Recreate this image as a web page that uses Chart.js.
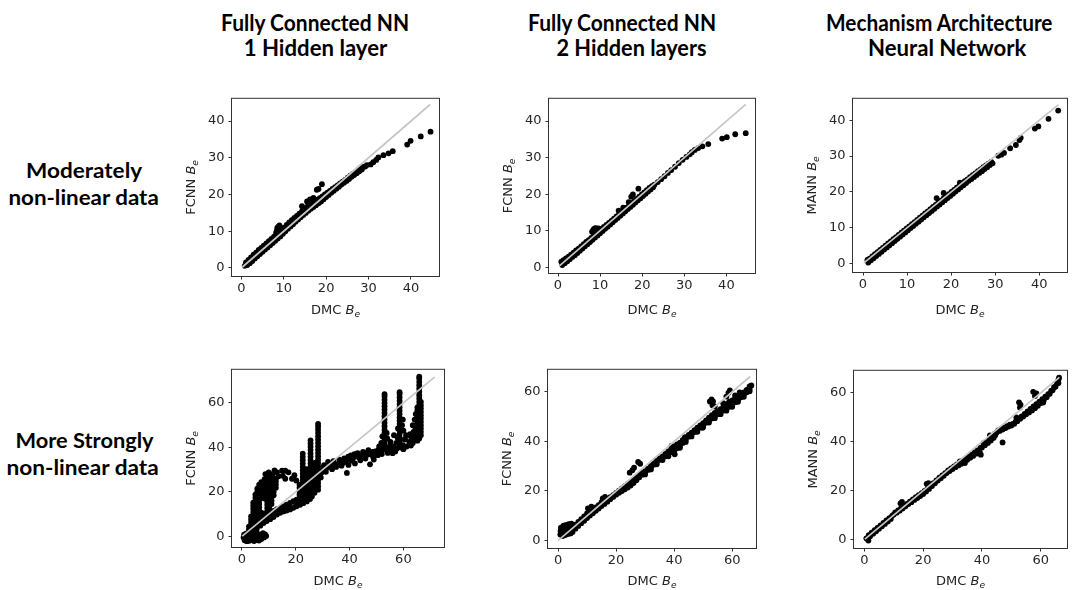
<!DOCTYPE html>
<html>
<head>
<meta charset="utf-8">
<script src="https://cdn.jsdelivr.net/npm/chart.js@4.4.1/dist/chart.umd.min.js"></script>
<style>
  html, body { margin: 0; padding: 0; background: #fff; }
  #page { position: relative; width: 1076px; height: 590px; overflow: hidden; background: #fff; }
  #page canvas { position: absolute; }
  .lbl { position: absolute; white-space: nowrap; color: #000; transform-origin: 50% 50%; }
</style>
</head>
<body>
<div id="page"></div>
<script>
// ---------------------------------------------------------------
// Data: predicted Be (network) against DMC Be, one array per panel
// ---------------------------------------------------------------
const colTitles = [
  ["Fully Connected NN", "1 Hidden layer"],
  ["Fully Connected NN", "2 Hidden layers"],
  ["Mechanism Architecture", "Neural Network"]
];
const rowTitles = [
  ["Moderately", "non-linear data"],
  ["More Strongly", "non-linear data"]
];
const xTitle = "DMC";
const yTitles = ["FCNN", "FCNN", "MANN", "FCNN", "FCNN", "MANN"];
const ticksModerate = [0, 10, 20, 30, 40];
const ticksStrong = [0, 20, 40, 60];

// axis limits [xmin, xmax, ymin, ymax]
const axisLimits = [
  [-2.19, 46.6, -2.18, 46.05],
  [-2.14, 46.8, -1.59, 46.1],
  [-2.27, 46.3, -2.35, 46.0],
  [-3.7, 75.1, -4.8, 74.9],
  [-3.45, 68.2, -3.0, 68.9],
  [-3.5, 68.9, -3.45, 69.0]
];

// y = x reference line, from / to
const parityRange = [
  [0.2, 44.5], [0.2, 44.6], [0.2, 44.3],
  [0.1, 71.6], [0.1, 66.2], [0.2, 66.3]
];

const fcnn1ModPts = [
  [0.8,0.6],[1.4,0.8],[2.0,1.3],[2.6,1.9],[3.2,2.6],[3.8,3.2],[4.4,3.8],[5.0,4.4],[5.6,5.0],[6.2,5.6],[6.8,6.2],[7.4,6.8],[8.0,7.4],[8.6,8.0],[9.2,8.6],[9.8,9.3],[10.4,10.0],[11.0,10.7],[11.6,11.3],[12.2,11.9],[12.8,12.6],[13.4,13.2],[14.0,13.8],[14.6,14.4],[15.2,15.0],[15.8,15.6],[16.4,16.1],[17.0,16.6],[17.6,17.1],[18.2,17.6],[18.8,18.1],[19.4,18.7],[20.0,19.3],[20.6,19.9],[21.2,20.5],[21.8,21.0],[22.4,21.6],[23.0,22.1],[23.6,22.7],[24.2,23.2],[24.8,23.7],[25.4,24.2],[26.0,24.8],[26.6,25.3],[27.2,25.8],[27.8,26.3],[28.4,26.8],
  [1.1,1.5],[1.7,2.2],[2.3,2.9],[2.9,3.6],[3.5,4.2],[4.1,4.9],[4.7,5.5],[5.3,6.1],[5.9,6.7],[6.5,7.3],[7.1,7.9],[7.7,8.5],[8.3,9.1],[8.9,9.7],[9.5,10.4],[10.1,11.0],[10.7,11.7],[11.3,12.4],[11.9,13.0],[12.5,13.6],[13.1,14.2],[13.7,14.8],[14.3,15.4],[14.9,16.0],[15.5,16.6],[16.1,17.1],[16.7,17.6],[17.3,18.1],[17.9,18.6],[18.5,19.0],[19.1,19.5],[19.7,20.0],[20.3,20.5],[20.9,21.0],[21.5,21.5],[22.1,22.0],[22.7,22.5],[23.3,23.0],[23.9,23.5],[24.5,24.0],[25.1,24.6],[25.7,25.1],[26.3,25.6],[26.9,26.1],[27.5,26.6],[28.1,27.1],[28.7,27.5],
  [8.2,9.6],[8.4,10.2],[8.6,10.8],[8.8,11.3],[9.0,11.6],[8.5,11.0],[8.7,9.9],
  [14.3,16.8],[15.5,18.1],[16.2,18.7],[17.0,19.1],[17.8,21.3],[18.2,21.5],[19.0,22.8],
  [29.2,27.6],[29.6,28.0],[30.5,28.2],[31.1,28.8],[31.8,29.4],[32.3,30.1],[33.5,30.7],[34.7,31.2],[35.7,31.8],[39.1,33.6],[39.9,34.6],[42.3,35.8],[44.6,37.1]
];

const fcnn2ModPts = [
  [1.0,0.6],[1.6,1.1],[2.2,1.6],[2.8,2.2],[3.4,2.8],[4.0,3.3],[4.6,3.9],[5.2,4.5],[5.8,5.1],[6.4,5.7],[7.0,6.3],[7.6,6.9],[8.2,7.5],[8.8,8.1],[9.4,8.7],[10.0,9.3],[10.6,9.9],[11.2,10.5],[11.8,11.1],[12.4,11.7],[13.0,12.3],[13.6,12.9],[14.2,13.5],[14.8,14.1],[15.4,14.7],[16.0,15.3],[16.6,15.9],[17.2,16.5],[17.8,17.1],[18.4,17.7],[19.0,18.3],[19.6,18.9],[20.2,19.5],[20.8,20.1],[21.4,20.7],[22.0,21.3],[22.6,21.9],
  [0.8,1.5],[1.3,1.9],[1.9,2.4],[2.5,2.9],[3.1,3.4],[3.7,4.0],[4.3,4.6],[4.9,5.1],[5.5,5.7],[6.1,6.3],[6.7,6.9],[7.3,7.4],[7.9,8.0],[8.5,8.6],[9.1,9.2],[9.7,9.8],[10.3,10.4],[10.9,11.0],[11.5,11.6],[12.1,12.1],[12.7,12.7],[13.3,13.3],[13.9,13.9],[14.5,14.5],[15.1,15.1],[15.7,15.7],[16.3,16.3],[16.9,16.9],[17.5,17.5],[18.1,18.1],[18.7,18.7],[19.3,19.3],[19.9,19.9],[20.5,20.5],[21.1,21.1],[21.7,21.7],[22.3,22.2],
  [8.1,9.7],[8.4,10.3],[8.7,10.6],[9.0,10.7],[9.3,10.4],[9.6,10.6],
  [14.4,15.5],[15.5,16.3],[16.8,17.8],[17.4,19.3],[17.8,19.9],[19.1,21.5],
  [22.9,22.6],[23.7,23.3],[24.5,24.1],[25.3,24.9],[26.1,25.8],[26.9,26.6],[27.8,27.5],[28.7,28.5],[29.6,29.4],[30.5,30.2],[31.3,30.9],[31.8,31.5],
  [32.5,32.1],[33.3,32.6],[34.3,33.1],[35.7,33.7],[39.0,35.2],[40.1,35.6],[42.1,36.4],[44.6,36.7]
];

const mannModPts = [
  [1.2,0.3],[1.8,0.9],[2.4,1.5],[3.0,2.1],[3.6,2.7],[4.2,3.3],[4.8,3.9],[5.4,4.5],[6.0,5.1],[6.6,5.7],[7.2,6.3],[7.8,6.9],[8.4,7.5],[9.0,8.1],[9.6,8.7],[10.2,9.3],[10.8,9.9],[11.4,10.5],[12.0,11.1],[12.6,11.7],[13.2,12.3],[13.8,12.9],[14.4,13.5],[15.0,14.1],[15.6,14.7],[16.2,15.3],[16.8,15.9],[17.4,16.5],[18.0,17.1],[18.6,17.7],[19.2,18.3],[19.8,18.9],[20.4,19.5],[21.0,20.1],[21.6,20.7],[22.2,21.3],[22.8,21.9],[23.4,22.5],[24.0,23.1],[24.6,23.6],[25.2,24.2],[25.8,24.7],[26.4,25.3],[27.0,25.8],[27.6,26.4],[28.2,26.9],[28.8,27.5],[29.4,28.0],
  [1.0,1.0],[1.5,1.4],[2.1,2.0],[2.7,2.6],[3.3,3.2],[3.9,3.8],[4.5,4.4],[5.1,5.0],[5.7,5.6],[6.3,6.2],[6.9,6.8],[7.5,7.4],[8.1,8.0],[8.7,8.6],[9.3,9.2],[9.9,9.8],[10.5,10.4],[11.1,11.0],[11.7,11.6],[12.3,12.2],[12.9,12.8],[13.5,13.4],[14.1,14.0],[14.7,14.6],[15.3,15.2],[15.9,15.8],[16.5,16.4],[17.1,17.0],[17.7,17.6],[18.3,18.2],[18.9,18.8],[19.5,19.4],[20.1,20.0],[20.7,20.6],[21.3,21.2],[21.9,21.8],[22.5,22.4],[23.1,23.0],[23.7,23.5],[24.3,24.1],[24.9,24.7],[25.5,25.2],[26.1,25.8],[26.7,26.3],[27.3,26.9],[27.9,27.4],[28.5,27.9],[29.1,28.4],
  [16.7,18.3],[18.3,19.7],[22.0,22.6],
  [30.7,30.1],[31.4,30.4],[32.0,30.9],[33.4,32.2],[34.7,33.1],[35.5,34.5],[35.8,35.1],[39.0,37.7],[39.8,38.3],[42.1,40.4],[44.3,42.7]
];

const fcnn1StrongPts = [
  [0.6,-0.5],[0.8,0.8],[1.0,-1.8],[1.3,-0.6],[1.5,1.2],[1.8,-2.2],[2.0,-0.9],[2.2,0.4],[2.5,1.8],[2.7,-2.0],[3.0,-0.8],[3.2,0.6],[3.5,2.0],[3.7,-1.6],[4.0,-0.4],[4.2,1.0],[4.5,-2.1],[4.8,-0.9],[5.0,0.5],[5.3,1.8],[5.5,-1.6],[5.8,-0.3],[6.0,1.0],[6.3,-1.9],[6.6,-0.6],[6.8,0.8],[7.2,-1.2],[7.5,0.2],[7.8,1.4],[8.2,-0.5],[8.6,0.9],[9.0,0.2],
  [2.6,3.0],[2.6,4.4],[3.4,3.2],[3.4,4.7],[3.4,6.2],[3.4,7.6],[3.4,9.0],
  [4.2,3.4],[4.2,4.9],[4.2,6.4],[4.2,7.9],[4.2,9.4],[4.2,10.9],[4.2,12.4],[4.2,13.8],[4.2,15.1],
  [5.0,4.0],[5.0,5.5],[5.0,7.0],[5.0,8.5],[5.0,10.0],[5.0,11.5],[5.0,13.0],[5.0,14.5],[5.0,16.0],[5.0,17.4],[5.0,18.8],
  [5.7,5.0],[5.7,6.5],[5.7,8.0],[5.7,9.5],[5.7,11.0],[5.7,12.5],[5.7,14.0],[5.7,15.5],[5.7,17.0],[5.7,18.5],[5.7,20.0],[5.7,21.4],
  [6.4,5.5],[6.4,7.0],[6.4,8.5],[6.4,10.0],[6.4,11.5],[6.4,13.0],[6.4,14.5],[6.4,16.0],[6.4,17.5],[6.4,19.0],[6.4,20.5],[6.4,22.0],[6.4,23.2],
  [7.2,6.2],[7.2,7.7],[7.2,9.2],[7.2,10.6],[7.2,17.2],[7.2,18.7],[7.2,20.2],[7.2,21.7],[7.2,23.1],[7.2,24.4],
  [8.4,7.2],[8.4,8.7],[8.4,10.2],[8.4,17.0],[8.4,18.5],[8.4,20.0],[8.4,21.5],[8.4,23.0],[8.4,24.5],[8.4,25.7],
  [9.4,8.2],[9.4,9.7],[9.4,11.2],[9.4,12.7],[9.4,14.2],[9.4,15.7],[9.4,17.2],[9.4,18.7],[9.4,20.2],[9.4,21.7],[9.4,23.2],[9.4,24.7],[9.4,26.1],
  [10.2,9.2],[10.2,10.7],[10.2,12.2],[10.2,13.7],[10.2,15.2],[10.2,16.7],[10.2,18.2],[10.2,19.7],[10.2,21.2],[10.2,22.7],[10.2,24.2],[10.2,25.7],[10.2,26.8],
  [11.0,14.5],[11.0,16.0],[11.0,17.5],[11.0,19.0],[11.0,20.5],[11.0,22.0],[11.0,23.5],[11.0,25.0],[11.0,26.4],
  [11.8,18.5],[11.8,20.0],[11.8,21.5],[11.8,23.0],[11.8,24.5],[11.8,25.9],
  [12.6,21.8],[12.6,23.3],[12.6,24.8],[12.6,26.0],
  [8.7,28.0],[9.9,28.8],[11.3,28.0],[12.1,29.6],[13.0,28.8],[13.6,27.0],[14.9,29.5],[15.2,27.2],[16.1,29.5],[17.3,28.8],[16.1,25.9],[18.6,25.9],[19.5,27.5],[20.2,25.1],
  [4.3,1.9],[5.5,3.3],[6.8,4.8],[8.0,6.0],[9.2,6.9],[10.5,7.7],[11.7,8.7],[13.0,9.8],[14.2,10.6],[15.4,11.2],[16.6,11.6],[17.9,12.1],[19.1,12.8],[20.3,13.5],[21.6,14.2],[22.8,14.9],[24.1,15.7],[25.3,16.8],[26.0,17.9],
  [6.0,6.5],[7.2,7.6],[8.5,8.8],[9.5,9.8],[10.5,10.6],[11.8,11.4],[13.0,12.2],[14.2,12.8],[15.4,13.5],[16.6,14.2],[17.9,15.0],[19.1,15.8],[20.3,16.5],
  [11.0,9.9],[12.4,10.8],[15.0,12.3],[17.5,13.6],[20.0,15.0],[22.4,16.6],
  [21.4,15.8],[21.4,17.3],[21.4,18.8],[21.4,20.3],[21.4,21.8],[21.4,23.2],
  [22.6,16.2],[22.6,17.7],[22.6,19.2],[22.6,20.7],[22.6,22.2],[22.6,23.7],[22.6,25.2],[22.6,26.7],[22.6,28.2],[22.6,29.7],[22.6,31.2],[22.6,32.7],[22.6,34.2],[22.6,35.7],[22.6,37.2],
  [24.0,16.8],[24.0,18.3],[24.0,19.8],[24.0,21.3],[24.0,22.8],[24.0,24.3],[24.0,25.8],[24.0,27.3],[24.0,28.8],[24.0,30.2],
  [25.5,17.8],[25.5,19.3],[25.5,20.8],[25.5,22.3],[25.5,23.8],[25.5,25.3],[25.5,26.8],[25.5,28.3],[25.5,29.8],[25.5,31.3],[25.5,32.8],[25.5,34.3],[25.5,35.8],[25.5,37.3],[25.5,38.8],[25.5,40.3],[25.5,41.8],[25.5,43.2],
  [27.0,19.6],[27.0,21.1],[27.0,22.6],[27.0,24.1],[27.0,25.6],[27.0,27.1],[27.0,28.6],[27.0,30.1],[27.0,31.6],[27.0,33.0],
  [28.3,21.0],[28.3,22.5],[28.3,24.0],[28.3,25.5],[28.3,27.0],[28.3,28.5],[28.3,30.0],[28.3,31.5],[28.3,33.0],[28.3,34.5],[28.3,36.0],[28.3,37.5],[28.3,39.0],[28.3,40.5],[28.3,42.0],[28.3,43.5],[28.3,45.0],[28.3,46.5],[28.3,48.0],[28.3,49.4],[28.3,50.6],
  [29.7,28.8],[29.3,26.5],[30.2,30.4],[31.5,30.9],[31.2,29.0],[32.8,32.1],[33.5,30.2],[34.6,32.4],[35.9,32.7],[36.8,33.4],[37.7,33.1],[38.6,33.9],[39.0,28.5],[39.6,32.1],[40.2,34.6],[41.0,34.0],[41.4,35.3],[42.0,32.8],[42.7,36.5],[43.4,35.6],[43.9,35.3],[44.6,36.2],[45.1,36.7],[45.9,35.0],[46.4,37.5],[47.2,37.0],[47.6,32.4],[48.2,36.7],[48.8,35.7],[49.5,38.2],[50.1,37.9],[50.7,38.9],[51.9,39.7],
  [30.5,32.0],[32.0,33.5],[33.0,31.5],[34.0,33.8],[35.0,31.2],[36.2,34.5],[37.0,31.8],[38.0,35.0],[39.5,35.8],[40.5,36.4],[41.8,37.0],[43.0,37.4],[44.0,34.2],[45.0,38.0],[46.0,36.0],[47.0,38.8],[48.5,38.0],[49.0,34.5],[51.0,40.5],[52.0,37.0],[55.0,40.8],[56.0,37.4],[57.5,39.5],[60.0,39.2],[62.8,40.8],[63.5,42.0],[64.8,43.5],
  [50.5,36.5],[51.5,38.5],[52.0,40.5],[51.8,42.0],[52.2,45.0],[54.2,37.5],[54.5,39.5],[55.5,38.5],[56.2,40.5],[57.0,38.2],[57.4,42.0],[57.8,44.5],[58.0,48.5],[59.8,41.0],[60.5,43.5],[61.2,40.4],[61.0,45.5],[62.2,42.5],[62.5,46.0],[63.2,44.0],[63.8,47.0],[64.3,45.0],[64.5,48.5],[60.0,47.5],[59.5,50.0],[59.8,52.5],[54.0,44.0],[53.8,46.5],[55.2,42.5],[56.5,45.5],[60.6,43.7],[62.4,45.2],[63.5,50.0],[64.2,52.5],[64.6,55.0],
  [53.0,39.0],[53.0,40.5],[53.0,42.0],[53.0,43.5],[53.0,45.0],[53.0,46.5],[53.0,48.0],[53.0,49.5],[53.0,51.0],[53.0,52.5],[53.0,54.0],[53.0,55.5],[53.0,57.0],[53.0,58.5],[53.0,60.0],[53.0,61.5],[53.0,63.0],[53.0,64.0],
  [58.6,40.0],[58.6,41.5],[58.6,43.0],[58.6,44.5],[58.6,46.0],[58.6,47.5],[58.6,49.0],[58.6,50.5],[58.6,52.0],[58.6,53.5],[58.6,55.0],[58.6,56.5],[58.6,58.0],[58.6,59.5],[58.6,61.0],[58.6,62.5],[58.6,64.0],[58.6,64.8],
  [65.2,43.0],[65.2,44.5],[65.2,46.0],[65.2,47.5],[65.2,49.0],[65.2,50.5],[65.2,52.0],[65.2,53.5],[65.2,55.0],[65.2,56.5],[65.2,58.0],
  [65.9,44.0],[65.9,45.5],[65.9,47.0],[65.9,48.5],[65.9,50.0],[65.9,51.5],[65.9,53.0],[65.9,54.5],[65.9,56.0],[65.9,57.5],[65.9,59.0],[65.9,60.5],[65.9,62.0],[65.9,63.5],[65.9,65.0],[65.9,66.5],[65.9,68.0],[65.9,69.5],[65.9,71.0],[65.9,71.8],
  [66.5,45.5],[66.5,47.0],[66.5,48.5],[66.5,50.0],[66.5,51.5],[66.5,53.0],[66.5,54.5],[66.5,56.0],[66.5,57.5],[66.5,59.0],[66.5,60.5]
];

const fcnn2StrongPts = [
  [0.8,2.4],[0.9,3.8],[1.0,5.2],[1.3,2.6],[1.6,1.8],[1.7,3.2],[1.8,4.6],[1.9,6.0],[2.2,4.2],[2.5,2.2],[2.6,3.6],[2.7,5.0],[2.8,6.3],[3.4,2.6],[3.5,4.0],[3.6,5.4],[3.7,6.6],[4.3,2.9],[4.4,4.3],[4.5,5.7],[4.6,6.8],[5.0,3.5],[5.0,6.2],
  [6,4.8],[7,5.9],[8,7.0],[9,8.0],[10,9.1],[11,10.1],[12,11.0],[13,12.0],[14,12.9],[15,13.9],[16,14.8],[17,15.7],[18,16.7],[19,17.6],[20,18.5],[21,19.3],[22,20.0],[23,20.7],[24,21.4],[25,22.2],[26,23.2],[27,24.3],[28,25.5],[29,26.6],[30,27.5],[31,28.5],[32,29.5],[33,30.6],[34,31.6],[35,32.6],[36,33.3],[37,34.0],[38,34.8],[39,35.6],[40,36.3],[41,37.2],[42,38.2],[43,39.4],[44,40.6],[45,41.9],[46,42.8],[47,43.8],[48,44.7],[49,45.6],[50,46.6],[51,47.5],[52,48.4],[53,49.3],[54,50.2],[55,51.0],[56,51.8],[57,52.5],[58,53.2],[59,54.0],[60,54.8],[61,55.8],[62,56.8],[63,57.8],[64,58.8],[65,59.8],[66,61.0],
  [6,6.4],[7,7.5],[8,8.6],[9,9.8],[10,11.0],[11,11.9],[12,12.6],[13,13.4],[14,14.3],[15,15.5],[16,16.0],[17,16.7],[18,17.5],[19,18.3],[20,19.2],[21,20.1],[22,21.0],[23,22.0],[24,22.9],[25,23.6],[26,24.6],[27,25.6],[28,26.5],[29,27.4],[30,28.0],[31,29.0],[32,30.1],[33,31.2],[34,32.2],[35,33.2],[36,34.0],[37,35.0],[38,36.0],[39,37.0],[40,38.0],[41,38.8],[42,39.5],[43,40.6],[44,41.5],[45,42.6],[46,43.5],[47,44.6],[48,45.6],[49,46.5],[50,47.4],[51,48.5],[52,49.6],[53,50.6],[54,51.5],[55,52.2],[56,53.0],[57,54.0],[58,55.0],[59,56.0],[60,56.6],[61,57.4],[62,58.2],[63,59.0],[64,59.8],[65,60.8],[66,62.2],[66.6,62.6],
  [30,26.7],[32,28.7],[34,30.8],[36,32.5],[38,34.0],[40,35.5],[42,37.4],[44,39.8],[46,42.0],[48,43.9],[50,45.8],[52,47.6],[54,49.4],[56,51.0],[58,52.4],[60,54.0],[62,56.0],[64,58.0],[66,60.2],
  [10.3,13.0],[11.5,13.7],[15.4,17.0],[16.2,17.6],[24.7,27.4],[25.6,28.4],[26.2,29.4],[27.6,31.7],[28.3,31.0],[40.2,34.8],[39.1,38.2],[42.0,39.1],[43.1,40.4],[43.7,41.7],[49.8,45.5],
  [52.3,56.1],[52.9,57.0],[53.4,56.1],[54.0,54.1],[53.2,54.6],[56.9,55.4],[58.0,58.1],[58.7,59.6],[59.2,60.6],[61.0,58.6],[62.6,59.8]
];

const mannStrongPts = [
  [0.7,0.5],[1.4,-0.4],
  [1,0.3],[2,1.4],[3,2.4],[4,3.4],[5,4.4],[6,5.4],[7,6.4],[8,7.4],[9,8.4],[10,10.2],[11,11.0],[12,11.8],[13,12.7],[14,13.6],[15,14.5],[16,15.3],[17,16.2],[18,17.0],[19,17.8],[20,18.6],[21,19.6],[22,20.7],[23,21.9],[24,23.0],[25,24.1],[26,25.1],[27,26.1],[28,27.2],[29,28.0],[30,28.8],[31,29.6],[32,30.3],[33,31.0],[34,31.8],[35,32.6],[36,33.4],[37,34.2],[38,35.1],[39,36.0],[40,37.6],[41,38.6],[42,39.5],[43,40.5],[44,41.6],[45,43.8],[46,44.4],[47,45.0],[48,45.6],[49,46.2],[50,46.6],[51,47.4],[52,48.4],[53,49.4],[54,50.3],[55,51.2],[56,52.0],[57,52.8],[58,53.7],[59,54.7],[60,55.8],[61,57.0],[62,58.2],[63,59.6],[64,61.0],[65,62.5],[66,64.0],
  [1.5,1.8],[2.5,2.8],[3.5,3.8],[4.5,4.8],[5.5,5.8],[6.5,6.8],[7.5,7.8],[8.5,8.8],[9.5,9.8],[10.5,11.1],[11.5,11.9],[12.5,12.8],[13.5,13.7],[14.5,14.6],[15.5,15.5],[16.5,16.4],[17.5,17.3],[18.5,18.2],[19.5,19.0],[20.5,19.9],[21.5,20.9],[22.5,22.0],[23.5,23.1],[24.5,24.2],[25.5,25.3],[26.5,26.2],[27.5,27.2],[28.5,28.3],[29.5,29.1],[30.5,29.9],[31.5,30.7],[32.5,31.5],[33.5,32.3],[34.5,33.1],[35.5,33.9],[36.5,34.7],[37.5,35.6],[38.5,36.5],[39.5,37.5],[40.5,39.4],[41.5,39.8],[42.5,40.6],[43.5,41.5],[44.5,42.6],[45.5,44.6],[46.5,45.2],[47.5,45.8],[48.5,46.4],[49.5,47.0],[50.5,47.3],[51.5,48.3],[52.5,49.4],[53.5,50.4],[54.5,51.4],[55.5,52.4],[56.5,53.4],[57.5,54.4],[58.5,55.4],[59.5,56.4],[60.5,57.4],[61.5,58.4],[62.5,59.5],[63.5,60.8],[64.5,62.3],[65.5,63.8],[66.0,65.4],[66.2,66.2],
  [12.3,14.8],[12.8,15.4],[21.2,22.8],[21.8,23.1],[32.5,32.0],[34.2,31.3],[39.3,35.5],[39.6,34.7],[42.7,42.6],[44.4,43.3],[47.0,39.7],[51.7,49.9],[52.6,56.1],[53.1,55.2],[52.9,54.0],[57.4,60.4],[58.5,59.8],[58.0,58.7],[60.8,56.0]
];

const panelPoints = [fcnn1ModPts, fcnn2ModPts, mannModPts, fcnn1StrongPts, fcnn2StrongPts, mannStrongPts];

// ---------------------------------------------------------------
// Layout: plot frames in page pixels [left, top, right, bottom]
// ---------------------------------------------------------------
const frames = [
  [232, 93, 439, 276],
  [549, 93, 755, 273],
  [853, 93, 1067, 272],
  [232, 364, 444, 547],
  [548, 364, 756, 548],
  [854, 365, 1067, 548]
];
const xTitleBaseline = [314, 585];
const PAD_L = 62, PAD_T = 6, PAD_R = 6, PAD_B = 48;
const POINT_R = 2.9;

const page = document.getElementById('page');
const mctx = document.createElement('canvas').getContext('2d');

// bold label centred on cx, sitting on the given baseline, squeezed to an ink width
function placeText(text, cx, baseline, size, inkW) {
  const font = `700 ${size}px Lato`;
  mctx.font = font;
  const m = mctx.measureText(text);
  const adv = m.width;
  const inkL = m.actualBoundingBoxLeft, inkR = m.actualBoundingBoxRight;
  const s = inkW / (inkL + inkR);
  const A = m.fontBoundingBoxAscent, D = m.fontBoundingBoxDescent;
  const el = document.createElement('div');
  el.className = 'lbl';
  el.textContent = text;
  el.style.font = font;
  el.style.lineHeight = size + 'px';
  el.style.width = adv + 'px';
  el.style.height = size + 'px';
  const inkCenter = (inkR - inkL) / 2;
  el.style.left = (cx - adv / 2 - s * (inkCenter - adv / 2)) + 'px';
  el.style.top = (baseline - ((size - (A + D)) / 2 + A)) + 'px';
  el.style.transform = `scaleX(${s})`;
  page.appendChild(el);
}

// column headings
const colTitleGeom = [
  [[315, 31, 186], [316, 56, 143]],
  [[622, 31, 186], [631, 56, 150]],
  [[940, 31, 226], [948, 56, 158]]
];
colTitles.forEach((lines, c) => lines.forEach((t, k) => {
  const g = colTitleGeom[c][k];
  placeText(t, g[0], g[1], 23, g[2]);
}));

// row headings
const rowTitleGeom = [
  [[85.3, 178, 116], [84.5, 205, 149]],
  [[86, 448, 138], [83.5, 475, 151]]
];
rowTitles.forEach((lines, r) => lines.forEach((t, k) => {
  const g = rowTitleGeom[r][k];
  placeText(t, g[0], g[1], 21, g[2]);
}));

// "<name> B_e" with an italic B and subscript e
function drawBe(ctx, prefix, x, y, size) {
  const fN = `${size}px 'DejaVu Sans'`;
  const fI = `italic ${size}px 'DejaVu Sans'`;
  const fS = `italic ${(size * 0.7).toFixed(2)}px 'DejaVu Sans'`;
  ctx.font = fN; const w1 = ctx.measureText(prefix + ' ').width;
  ctx.font = fI; const w2 = ctx.measureText('B').width;
  ctx.font = fS; const w3 = ctx.measureText('e').width;
  let cx = x - (w1 + w2 + w3) / 2;
  ctx.textAlign = 'left';
  ctx.textBaseline = 'alphabetic';
  ctx.fillStyle = '#222';
  ctx.font = fN; ctx.fillText(prefix + ' ', cx, y); cx += w1;
  ctx.font = fI; ctx.fillText('B', cx, y); cx += w2;
  ctx.font = fS; ctx.fillText('e', cx, y + size * 0.22);
}

const framePlugin = {
  id: 'frame',
  afterDatasetsDraw(chart) {
    const { ctx, chartArea: a } = chart;
    ctx.save();
    ctx.strokeStyle = '#333';
    ctx.lineWidth = 1;
    ctx.strokeRect(a.left - 0.5, a.top - 0.5, a.right - a.left + 1, a.bottom - a.top + 1);
    ctx.restore();
  }
};

function axisTitlePlugin(i, originX, originY) {
  return {
    id: 'axisTitles' + i,
    afterDraw(chart) {
      const { ctx, chartArea: a } = chart;
      const size = 13;
      ctx.save();
      const row = i < 3 ? 0 : 1;
      drawBe(ctx, xTitle, (a.left + a.right) / 2, xTitleBaseline[row] - originY, size);
      ctx.translate(a.left - 42, (a.top + a.bottom) / 2);
      ctx.rotate(-Math.PI / 2);
      drawBe(ctx, yTitles[i], 0, size * 0.36, size);
      ctx.restore();
    }
  };
}

Chart.defaults.font.family = "'DejaVu Sans'";

function makePanel(i) {
  const f = frames[i];
  const lim = axisLimits[i];
  const ticks = i < 3 ? ticksModerate : ticksStrong;
  const W = (f[2] - f[0]) + PAD_L + PAD_R;
  const H = (f[3] - f[1]) + PAD_T + PAD_B;
  const ox = f[0] - PAD_L, oy = f[1] - PAD_T;
  const cv = document.createElement('canvas');
  cv.width = W; cv.height = H;
  cv.style.left = ox + 'px'; cv.style.top = oy + 'px';
  cv.style.width = W + 'px'; cv.style.height = H + 'px';
  page.appendChild(cv);

  const pr = parityRange[i];
  const tickFont = { family: "'DejaVu Sans'", size: 13 };
  const axisCommon = {
    type: 'linear',
    afterBuildTicks: s => { s.ticks = ticks.map(v => ({ value: v })); },
    grid: { display: true, drawOnChartArea: false, drawTicks: true, tickLength: 3.5, tickWidth: 1, color: '#333', tickColor: '#333' },
    border: { display: false },
  };

  new Chart(cv, {
    type: 'scatter',
    data: {
      datasets: [
        {
          type: 'line',
          data: [{ x: pr[0], y: pr[0] }, { x: pr[1], y: pr[1] }],
          borderColor: '#c6c6c6',
          borderWidth: 1.7,
          pointRadius: 0,
          fill: false,
          order: 0
        },
        {
          type: 'scatter',
          data: panelPoints[i].map(p => ({ x: p[0], y: p[1] })),
          pointRadius: POINT_R,
          pointBackgroundColor: '#000',
          pointBorderWidth: 0,
          order: 1
        }
      ]
    },
    options: {
      responsive: false,
      animation: false,
      events: [],
      layout: { padding: { left: 0, top: PAD_T, right: PAD_R, bottom: 0 } },
      plugins: { legend: { display: false }, tooltip: { enabled: false } },
      scales: {
        x: Object.assign({}, axisCommon, {
          position: 'bottom', min: lim[0], max: lim[1],
          afterFit: s => { s.height = PAD_B; },
          ticks: { color: '#262626', font: tickFont, padding: 1, maxRotation: 0, autoSkip: false }
        }),
        y: Object.assign({}, axisCommon, {
          position: 'left', min: lim[2], max: lim[3],
          afterFit: s => { s.width = PAD_L; },
          ticks: { color: '#262626', font: tickFont, padding: 4, autoSkip: false }
        })
      }
    },
    plugins: [framePlugin, axisTitlePlugin(i, ox, oy)]
  });
}

for (let i = 0; i < 6; i++) makePanel(i);
</script>
</body>
</html>
